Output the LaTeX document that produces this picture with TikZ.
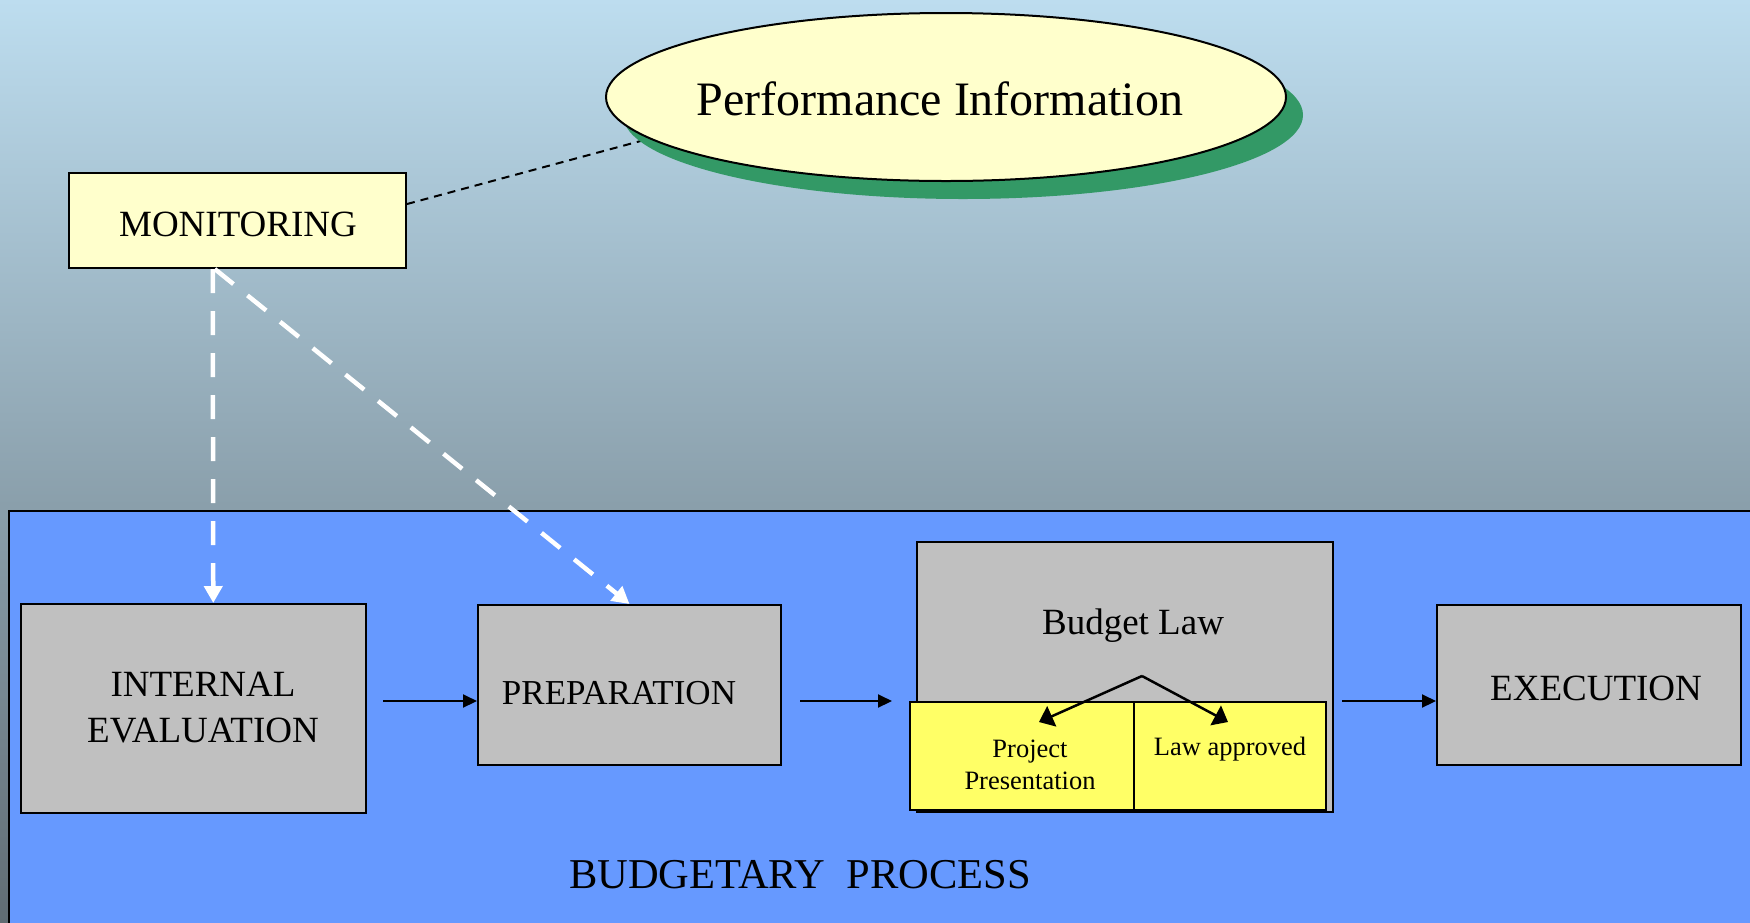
\documentclass[tikz,border=0pt]{standalone}
\usepackage{fontspec}
\setmainfont{Liberation Serif}
\usetikzlibrary{arrows.meta,shapes.geometric,shadows,calc}
\definecolor{bgtop}{RGB}{189,221,239}
\definecolor{bgbot}{RGB}{96,108,115}
\definecolor{procblue}{RGB}{102,153,255}
\definecolor{boxgray}{RGB}{192,192,192}
\definecolor{paleyellow}{RGB}{255,255,204}
\definecolor{brightyellow}{RGB}{255,255,102}
\definecolor{shadowgreen}{RGB}{51,153,102}
\pgfdeclarelayer{bglayer}
\pgfdeclarelayer{backlayer}
\pgfsetlayers{bglayer,backlayer,main}
\tikzset{
  boxfont/.style={font=\fontsize{37}{46}\selectfont},
  graybox/.style={draw=black, line width=2pt, fill=boxgray, inner sep=0pt},
  monbox/.style={draw=black, line width=2pt, fill=paleyellow, inner sep=0pt},
  subbox/.style={draw=black, line width=2pt, fill=brightyellow, inner sep=0pt},
  subtext/.style={font=\fontsize{26.5}{32}\selectfont, align=center, inner sep=0pt},
  boxtext/.style={boxfont, align=center, inner sep=0pt},
  flow/.style={draw=black, line width=2pt, -{Triangle[length=14pt,width=13pt]}},
  split/.style={draw=black, line width=2.5pt, -{Triangle[length=14pt,width=22pt]}},
  wdash/.style={draw=white, line width=4.5pt, dash pattern=on 24pt off 18pt, -{Triangle[length=17pt,width=18pt]}},
  tdash/.style={draw=black, line width=2pt, dash pattern=on 8pt off 6pt}
}
\begin{document}
\begin{tikzpicture}[x=1pt,y=-1pt]
\useasboundingbox (0,0) rectangle (1750,922);
\begin{pgfonlayer}{bglayer}
\shade[top color=bgtop,bottom color=bgbot] (0,0) rectangle (1750,922);
\draw[line width=2pt, fill=procblue] (9,511) rectangle (1770,942);
\end{pgfonlayer}

% Performance information
\node[ellipse, draw=black, line width=2pt, fill=paleyellow, minimum width=680pt, minimum height=168pt, inner sep=0pt,
  drop shadow={shadow xshift=17pt, shadow yshift=-18pt, fill=shadowgreen, opacity=1}] (perf) at (946,97) {};
\node[font=\fontsize{48}{54}\selectfont, inner sep=0pt] (perftext) at (940,99) {Performance Information};

% Monitoring
\node[monbox, minimum width=337pt, minimum height=95pt] (mon) at (237.5,220.5) {};
\node[boxtext] (montext) at (238,224) {MONITORING};

% Process boxes
\node[graybox, minimum width=345pt, minimum height=209pt] (ie) at (193.5,708.5) {};
\node[boxtext] (ietext) at (203,708) {INTERNAL\\EVALUATION};
\node[graybox, minimum width=303pt, minimum height=160pt] (prep) at (629.5,685) {};
\node[boxtext, font=\fontsize{35}{44}\selectfont] (preptext) at (619,693) {PREPARATION};
\node[graybox, minimum width=416pt, minimum height=270pt] (budget) at (1125,677) {};
\node[boxtext] (budgettext) at (1133,626) {Budget Law};
\node[subbox, minimum width=224pt, minimum height=108pt] (proj) at (1022,756) {};
\node[subbox, minimum width=192pt, minimum height=108pt] (law) at (1230,756) {};
\node[subtext] (projtext) at (1030,765) {Project\\Presentation};
\node[subtext] (lawtext) at (1230,749) {Law approved};
\node[graybox, minimum width=304pt, minimum height=160pt] (exec) at (1589,685) {};
\node[boxtext] (exectext) at (1596,688) {EXECUTION};

\node[font=\fontsize{42.5}{48}\selectfont, inner sep=0pt] (bp) at (800,875) {BUDGETARY\ \ PROCESS};

% connectors
\begin{pgfonlayer}{backlayer}
\draw[tdash] ($(mon.north east)!0.33!(mon.south east)$) -- (perf.188);
\end{pgfonlayer}

\coordinate (flowline) at (0,701);
\draw[flow, shorten <=16pt] (ie.east |- flowline) -- (prep.west |- flowline);
\draw[flow, shorten <=18pt, shorten >=17pt] (prep.east |- flowline) -- (proj.west |- flowline);
\draw[flow, shorten <=8pt] (budget.east |- flowline) -- (exec.west |- flowline);

\coordinate (apex) at (1142,676);
\coordinate (projtip) at (1039,722);
\coordinate (lawtip) at (1228,722);
\draw[split] (apex) -- (projtip);
\draw[split] (apex) -- (lawtip);

\draw[wdash] ($(mon.south west)!0.427!(mon.south east)$) -- ($(ie.north west)!0.557!(ie.north east)$);
\draw[wdash] ($(mon.south west)!0.433!(mon.south east)$) -- (prep.north);
\end{tikzpicture}
\end{document}
